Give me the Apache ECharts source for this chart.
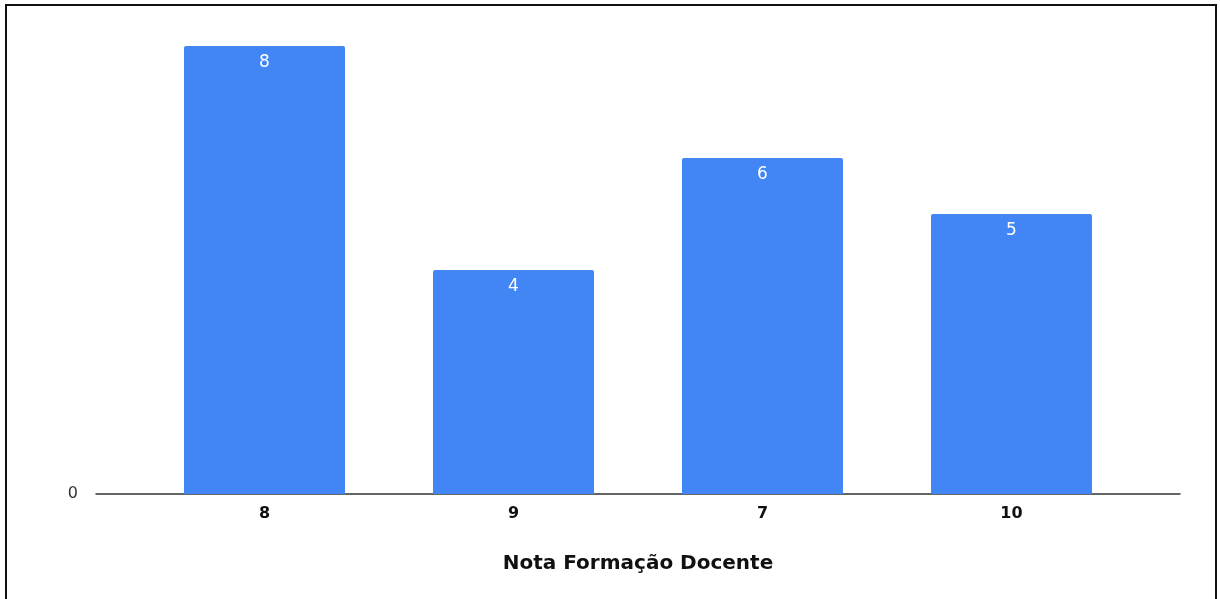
<!DOCTYPE html>
<html>
<head>
<meta charset="utf-8">
<style>
  html, body { margin: 0; padding: 0; background: #ffffff; }
  #chart { width: 1220px; height: 599px; }
</style>
<script src="https://cdn.jsdelivr.net/npm/echarts@6/dist/echarts.min.js"></script>
</head>
<body>
<div id="chart"></div>
<script>
// Notas de formação docente e quantidade de respostas
const categories = ['8', '9', '7', '10'];
const counts = [8, 4, 6, 5];
const axisTitle = 'Nota Formação Docente';
const yTicks = [0];

const chart = echarts.init(document.getElementById('chart'), null, { renderer: 'canvas' });

const yMax = 8;
const FONT = 'DejaVu Sans, Verdana, sans-serif';

chart.setOption({
  animation: false,
  backgroundColor: '#ffffff',
  textStyle: { fontFamily: FONT },
  grid: [
    // outer plot area: baseline and the "0" tick
    { left: 96, right: 40, top: 46, bottom: 105 },
    // inner area holding the bars
    { left: 140, right: 84, top: 46, bottom: 105 }
  ],
  xAxis: [
    {
      gridIndex: 0,
      type: 'category',
      data: categories,
      axisLine: { show: true, lineStyle: { color: '#333333', width: 1.5 } },
      axisTick: { show: false },
      axisLabel: { show: false },
      name: axisTitle,
      nameLocation: 'middle',
      nameGap: 60,
      nameTextStyle: { fontSize: 20, fontWeight: 'bold', color: '#111111', fontFamily: FONT }
    },
    {
      gridIndex: 1,
      type: 'category',
      data: categories,
      axisLine: { show: false },
      axisTick: { show: false },
      axisLabel: { show: true, margin: 12, fontSize: 16, fontWeight: 'bold', color: '#111111', fontFamily: FONT }
    }
  ],
  yAxis: [
    {
      gridIndex: 0,
      type: 'value',
      min: 0,
      max: yMax,
      interval: yMax,
      splitLine: { show: false },
      axisLine: { show: false },
      axisTick: { show: false },
      axisLabel: {
        margin: 18,
        fontSize: 16,
        color: '#333333',
        fontFamily: FONT,
        formatter: v => (yTicks.indexOf(v) >= 0 ? String(v) : '')
      }
    },
    {
      gridIndex: 1,
      type: 'value',
      min: 0,
      max: yMax,
      show: false
    }
  ],
  series: [
    {
      type: 'bar',
      xAxisIndex: 1,
      yAxisIndex: 1,
      data: counts,
      barWidth: 161,
      itemStyle: { color: '#4285F4', borderRadius: [2, 2, 0, 0] },
      label: {
        show: true,
        position: 'insideTop',
        distance: 8,
        color: '#ffffff',
        fontSize: 17,
        fontFamily: FONT
      }
    }
  ],
  graphic: [
    {
      type: 'rect',
      silent: true,
      shape: { x: 6, y: 5, width: 1210, height: 640 },
      style: { fill: 'none', stroke: '#111111', lineWidth: 2 }
    }
  ]
});
</script>
</body>
</html>
